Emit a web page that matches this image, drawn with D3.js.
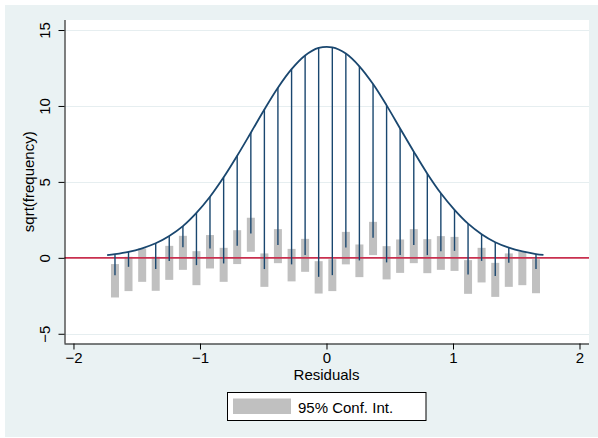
<!DOCTYPE html>
<html>
<head>
<meta charset="utf-8">
<script src="https://cdn.jsdelivr.net/npm/d3@7"></script>
<style>
  html, body { margin: 0; padding: 0; background: #ffffff; }
  svg { display: block; }
  text { font-family: "Liberation Sans", Arial, Helvetica, sans-serif; }
</style>
</head>
<body>
<svg id="chart" width="598" height="438"></svg>
<script>
// ---------------- data ----------------
const binCenters = [-1.672, -1.565, -1.457, -1.350, -1.243, -1.135, -1.028, -0.921,
  -0.813, -0.706, -0.598, -0.491, -0.384, -0.276, -0.169, -0.062,
  0.046, 0.153, 0.260, 0.368, 0.475, 0.582, 0.690, 0.797,
  0.904, 1.012, 1.119, 1.226, 1.334, 1.441, 1.548, 1.656];
// sqrt(expected frequency) — top of each hanging spike, on the fitted curve
const sqrtExpected = [0.24, 0.39, 0.63, 0.96, 1.44, 2.09, 2.96, 4.02,
  5.30, 6.72, 8.24, 9.77, 11.20, 12.42, 13.32, 13.82,
  13.86, 13.45, 12.61, 11.44, 10.04, 8.52, 6.99, 5.54,
  4.25, 3.16, 2.25, 1.56, 1.03, 0.67, 0.42, 0.25];
// sqrt(observed frequency) — length of each hanging spike
const sqrtObserved = [1.38, 0.98, 0.00, 1.70, 1.64, 1.39, 3.44, 3.40,
  5.67, 5.93, 6.63, 10.51, 10.36, 12.85, 13.14, 15.07,
  15.00, 12.77, 12.78, 10.12, 10.34, 8.34, 6.15, 5.36,
  3.81, 2.70, 3.34, 1.76, 2.22, 1.00, 0.00, 0.99];
// 95% confidence interval for the hanging end
const ciUpper = [-0.41, 0.07, 0.62, 0.07, 0.79, 1.45, 0.44, 1.50,
  0.66, 1.82, 2.64, 0.29, 1.89, 0.59, 1.25, -0.22,
  -0.09, 1.71, 0.88, 2.37, 0.77, 1.21, 1.89, 1.23,
  1.43, 1.38, -0.15, 0.66, -0.33, 0.29, 0.40, -0.09];
const ciLower = [-2.61, -2.19, -1.58, -2.17, -1.45, -0.79, -1.80, -0.70,
  -1.58, -0.41, 0.40, -1.91, -0.35, -1.55, -0.92, -2.35,
  -2.19, -0.43, -1.27, 0.18, -1.42, -0.99, -0.35, -1.01,
  -0.79, -0.86, -2.37, -1.62, -2.57, -1.91, -1.80, -2.33];
// fitted curve ends (bin edges) and their values
const curveEndsX = [-1.734, 1.715];
const curveEndsY = [0.18, 0.19];

const xTicks = [-2, -1, 0, 1, 2];
const yTicks = [-5, 0, 5, 10, 15];
const yGrid = [-5, 5, 10, 15];
const xTitle = "Residuals";
const yTitle = "sqrt(frequency)";
const legendLabel = "95% Conf. Int.";

// ---------------- layout ----------------
const svg = d3.select("#chart");
const plotL = 64.5, plotR = 589, plotT = 20, plotB = 343.5;

const x = d3.scaleLinear().domain([-2.071, 2.075]).range([plotL, plotR]);
const y = d3.scaleLinear().domain([-5.64, 15.66]).range([plotB, plotT]);

const navy = "#1a476f";
const intFmt = d3.format("d");

// graph region background
svg.append("rect").attr("x", 5).attr("y", 5).attr("width", 593).attr("height", 432)
  .attr("fill", "#eaf2f3");
// plot region
svg.append("rect").attr("x", plotL).attr("y", plotT).attr("width", plotR - plotL)
  .attr("height", plotB - plotT).attr("fill", "#ffffff");

// gridlines
svg.append("g").selectAll("line").data(yGrid).join("line")
  .attr("x1", plotL).attr("x2", plotR)
  .attr("y1", d => Math.round(y(d)) + 0.5).attr("y2", d => Math.round(y(d)) + 0.5)
  .attr("stroke", "#e6eef0").attr("stroke-width", 1.2);

// confidence interval bars
const bars = binCenters.map((c, i) => ({c, lo: ciLower[i], hi: ciUpper[i]}));
svg.append("g").selectAll("rect").data(bars).join("rect")
  .attr("x", d => x(d.c) - 4)
  .attr("width", 8)
  .attr("y", d => y(d.hi))
  .attr("height", d => y(d.lo) - y(d.hi))
  .attr("fill", "#c0c0c0");

// zero line
svg.append("line")
  .attr("x1", plotL).attr("x2", plotR)
  .attr("y1", y(0)).attr("y2", y(0))
  .attr("stroke", "#c9304f").attr("stroke-width", 1.6);

// hanging spikes
const spikes = binCenters.map((c, i) => ({c, top: sqrtExpected[i], bottom: sqrtExpected[i] - sqrtObserved[i]}));
svg.append("g").selectAll("line").data(spikes).join("line")
  .attr("x1", d => x(d.c)).attr("x2", d => x(d.c))
  .attr("y1", d => y(d.top)).attr("y2", d => y(d.bottom))
  .attr("stroke", navy).attr("stroke-width", 1.4);

// fitted curve
const curvePts = [[curveEndsX[0], curveEndsY[0]]]
  .concat(binCenters.map((c, i) => [c, sqrtExpected[i]]))
  .concat([[curveEndsX[1], curveEndsY[1]]]);
svg.append("path")
  .attr("d", d3.line().x(d => x(d[0])).y(d => y(d[1])).curve(d3.curveCatmullRom)(curvePts))
  .attr("fill", "none").attr("stroke", navy).attr("stroke-width", 1.8);

// axes
const yAxis = svg.append("g").attr("transform", `translate(${plotL},0)`)
  .call(d3.axisLeft(y).tickValues(yTicks).tickFormat(intFmt).tickSize(6).tickSizeOuter(0));
yAxis.select(".domain").attr("d", `M0.5,${plotT}V${plotB}`).attr("stroke", "#000");
yAxis.selectAll(".tick line").attr("stroke", "#000");
yAxis.selectAll(".tick text")
  .attr("x", null).attr("dy", null)
  .attr("text-anchor", "middle")
  .attr("transform", "translate(-20,0) rotate(-90)")
  .attr("dy", "0.35em")
  .attr("font-size", 15).attr("fill", "#000")
  .attr("font-family", "'Liberation Sans', Arial, sans-serif");

const xAxis = svg.append("g").attr("transform", `translate(0,${plotB})`)
  .call(d3.axisBottom(x).tickValues(xTicks).tickFormat(intFmt).tickSize(6).tickSizeOuter(0));
xAxis.select(".domain").attr("d", `M${plotL},0.5H${plotR}`).attr("stroke", "#000");
xAxis.selectAll(".tick line").attr("stroke", "#000");
xAxis.selectAll(".tick text")
  .attr("y", 19.5).attr("dy", null)
  .attr("font-size", 15).attr("fill", "#000")
  .attr("font-family", "'Liberation Sans', Arial, sans-serif");

// axis titles
svg.append("text").attr("x", x(0)).attr("y", 380)
  .attr("text-anchor", "middle").attr("font-size", 15).attr("fill", "#000")
  .text(xTitle);
svg.append("text")
  .attr("transform", `translate(34,${(plotT + plotB) / 2}) rotate(-90)`)
  .attr("text-anchor", "middle").attr("font-size", 15).attr("fill", "#000")
  .text(yTitle);

// legend
const lg = svg.append("g");
lg.append("rect").attr("x", 227.5).attr("y", 392.5).attr("width", 198.5).attr("height", 28)
  .attr("fill", "#ffffff").attr("stroke", "#000").attr("stroke-width", 1);
lg.append("rect").attr("x", 233).attr("y", 398.5).attr("width", 58).attr("height", 15.5)
  .attr("fill", "#c0c0c0");
lg.append("text").attr("x", 298).attr("y", 412.5).attr("font-size", 15).attr("fill", "#000")
  .text(legendLabel);
</script>
</body>
</html>
